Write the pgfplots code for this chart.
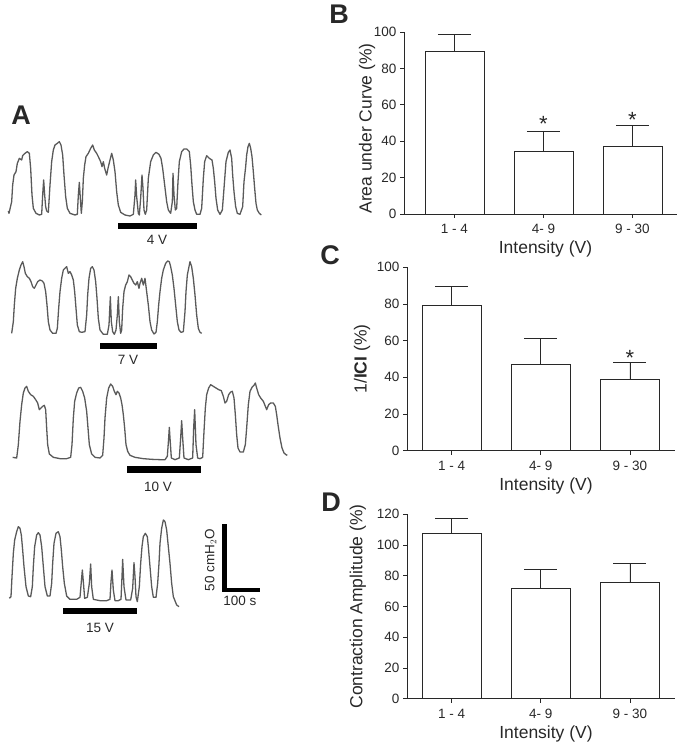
\documentclass[border=0pt]{standalone}
\usepackage{pgfplots}
\pgfplotsset{compat=1.18}
\usepackage{fontspec}
\setmainfont{Liberation Sans}

\definecolor{axgray}{RGB}{40,40,40}
\definecolor{trgray}{RGB}{90,90,90}

\newcommand{\tfont}{\fontsize{13.5}{15}\selectfont}
\newcommand{\lfont}{\fontsize{17.5}{19}\selectfont}
\newcommand{\pfont}{\fontsize{27}{28}\selectfont\bfseries}
\newcommand{\sfont}{\fontsize{22}{22}\selectfont}

\pgfplotsset{
  trace/.style={hide axis, scale only axis, y dir=reverse, clip=false, anchor=north west},
  tr/.style={trgray, line width=1.3pt, line join=round},
  panel/.style={
    scale only axis, anchor=south west,
    axis lines*=left, ymin=0,
    xtick={0,1,2}, xticklabels={1 - 4,4- 9,9 - 30},
    tick align=outside, major tick length=4pt,
    tick style={line width=0.8pt, axgray},
    axis line style={line width=0.8pt, axgray},
    ticklabel style={font=\tfont, text=axgray},
    /pgf/number format/assume math mode=true,
    x tick label style={anchor=center, yshift=-11pt},
    xlabel={Intensity (V)},
    xlabel style={font=\lfont, text=axgray, at={(axis description cs:0.5,0)}, anchor=center, yshift=-35pt, xshift=5pt},
    ylabel style={font=\lfont, text=axgray, anchor=center},
  },
  bars/.style={ybar, bar width=59pt, fill=white, draw=axgray, line width=0.9pt,
    error bars/.cd, y dir=plus, y explicit, error mark=|,
    error bar style={line width=0.9pt, axgray},
    error mark options={mark size=16.5pt, line width=0.9pt, axgray}},
}

\begin{document}
\begin{tikzpicture}
\useasboundingbox (0pt,0pt) rectangle (697pt,749pt);

% panel letters
\node[font=\pfont, text=axgray] at (21pt,634pt) {A};
\node[font=\pfont, text=axgray] at (339pt,735pt) {B};
\node[font=\pfont, text=axgray] at (330pt,494pt) {C};
\node[font=\pfont, text=axgray] at (331pt,247pt) {D};

% ---- trace 4 V
\begin{axis}[trace, at={(0pt,614pt)}, width=270pt, height=100pt,
  xmin=0, xmax=810, ymin=0, ymax=300]
\addplot[tr] coordinates {
(25,228)(27,235)(35,200)(38,150)(42,120)(48,110)(52,85)(58,70)(65,75)(68,62)(75,55)(82,50)(88,55)(92,100)(96,180)(100,220)(108,235)(118,240)(125,238)(128,180)(131,135)(134,180)(137,215)(140,228)(145,232)(150,150)(155,80)(160,45)(165,30)(172,25)(178,20)(183,30)(188,60)(192,120)(197,185)(202,220)(210,235)(225,240)(232,238)(235,180)(238,142)(241,190)(244,235)(247,200)(250,130)(254,90)(258,65)(265,55)(272,40)(278,30)(283,45)(290,55)(295,65)(302,80)(306,95)(310,80)(314,100)(320,120)(324,100)(330,75)(335,55)(340,75)(345,110)(350,170)(355,210)(362,232)(375,240)(390,243)(400,238)(405,180)(407,135)(410,185)(415,235)(418,240)(422,190)(426,120)(429,160)(432,225)(436,238)(440,225)(445,130)(452,80)(460,60)(468,52)(477,58)(483,70)(488,100)(494,150)(500,200)(505,225)(512,235)(517,200)(519,115)(522,180)(526,225)(530,220)(534,140)(538,80)(545,50)(552,42)(560,42)(568,50)(572,90)(576,150)(580,200)(585,225)(590,238)(600,238)(605,220)(610,130)(614,80)(620,62)(628,70)(636,75)(640,100)(644,140)(648,190)(653,225)(660,238)(667,225)(672,160)(678,80)(685,52)(690,45)(695,70)(698,120)(702,170)(707,215)(712,235)(720,238)(728,215)(732,140)(737,95)(740,60)(744,35)(748,25)(752,40)(756,65)(760,110)(764,160)(768,205)(772,225)(778,235)(784,240)
};
\fill[black] (axis cs:353,263) rectangle (axis cs:592,283);
\node[font=\tfont, text=axgray] at (axis cs:471,315) {4 V};
\end{axis}

% ---- trace 7 V
\begin{axis}[trace, at={(0pt,494pt)}, width=210pt, height=100pt,
  xmin=0, xmax=630, ymin=0, ymax=300]
\addplot[tr] coordinates {
(35,235)(40,200)(43,150)(47,100)(52,70)(58,45)(63,30)(68,20)(72,35)(76,55)(82,65)(88,70)(93,80)(98,95)(103,100)(108,90)(113,80)(120,75)(127,78)(132,85)(137,110)(141,150)(145,200)(150,225)(158,235)(168,235)(172,220)(176,160)(180,110)(185,70)(190,45)(195,40)(200,35)(205,55)(210,50)(215,60)(220,75)(224,110)(228,160)(232,210)(238,230)(245,232)(255,230)(260,180)(263,120)(267,70)(272,40)(277,35)(282,45)(287,80)(291,130)(295,190)(300,225)(310,238)(322,238)(327,210)(331,125)(334,200)(338,230)(343,238)(348,225)(352,180)(355,125)(358,200)(362,235)(365,225)(368,160)(372,110)(377,90)(382,80)(387,60)(392,65)(397,75)(402,85)(407,90)(412,80)(417,100)(420,85)(425,70)(430,90)(435,70)(440,110)(445,150)(450,200)(455,225)(462,237)(468,232)(472,200)(476,150)(480,110)(485,70)(490,45)(497,25)(503,18)(508,20)(512,35)(517,60)(522,100)(527,150)(532,200)(537,225)(543,232)(550,230)(555,170)(558,110)(562,60)(566,40)(570,20)(575,35)(580,70)(585,120)(590,180)(595,220)(600,232)(605,235)
};
\fill[black] (axis cs:300,263) rectangle (axis cs:472,283);
\node[font=\tfont, text=axgray] at (axis cs:384,314) {7 V};
\end{axis}

% ---- trace 10 V
\begin{axis}[trace, at={(0pt,371pt)}, width=295pt, height=100pt,
  xmin=0, xmax=885, ymin=0, ymax=300]
\addplot[tr] coordinates {
(38,238)(50,240)(55,200)(60,130)(65,80)(70,45)(75,30)(80,25)(85,40)(92,50)(100,55)(107,65)(113,75)(118,95)(123,90)(128,85)(133,82)(137,95)(140,150)(143,200)(148,228)(160,238)(180,242)(200,242)(212,238)(216,200)(220,120)(224,70)(230,45)(236,30)(242,28)(248,40)(254,60)(260,100)(264,150)(268,200)(275,228)(285,238)(300,240)(308,232)(312,180)(315,120)(320,60)(326,30)(332,18)(338,25)(343,40)(348,50)(352,40)(357,45)(362,60)(366,80)(370,110)(374,150)(378,200)(383,220)(390,232)(405,238)(430,242)(455,244)(480,245)(495,245)(502,235)(506,180)(508,148)(510,180)(514,240)(525,245)(538,240)(542,180)(545,128)(548,180)(552,240)(565,245)(578,240)(581,150)(584,95)(588,200)(593,240)(600,242)(608,238)(612,160)(616,90)(620,50)(626,30)(632,20)(640,25)(648,30)(656,35)(664,38)(670,55)(675,75)(680,70)(686,50)(692,42)(697,40)(702,60)(706,110)(710,170)(714,210)(720,222)(730,222)(736,200)(740,150)(745,80)(750,40)(756,28)(762,22)(766,15)(770,30)(776,50)(782,60)(790,70)(796,85)(800,95)(806,80)(812,75)(820,75)(826,85)(830,110)(834,140)(840,180)(846,210)(852,225)(858,230)(862,232)
};
\fill[black] (axis cs:381,265) rectangle (axis cs:603,286);
\node[font=\tfont, text=axgray] at (axis cs:474,326) {10 V};
\end{axis}

% ---- trace 15 V with scale bar
\begin{axis}[trace, at={(0pt,239pt)}, width=270pt, height=110pt,
  xmin=0, xmax=810, ymin=0, ymax=330]
\addplot[tr] coordinates {
(28,265)(33,260)(36,200)(40,130)(44,90)(50,65)(55,50)(60,55)(64,75)(68,120)(72,170)(78,230)(85,258)(92,260)(97,230)(100,170)(104,110)(110,75)(115,68)(120,75)(125,110)(130,170)(135,230)(142,258)(150,258)(155,220)(158,160)(162,100)(168,70)(175,65)(180,80)(184,120)(188,170)(193,220)(200,258)(210,268)(230,268)(240,262)(244,215)(247,180)(250,215)(254,265)(262,262)(268,220)(272,162)(275,230)(280,268)(300,272)(320,272)(330,268)(333,215)(336,180)(340,240)(345,272)(355,272)(363,268)(366,200)(368,148)(372,230)(378,270)(392,270)(398,235)(402,158)(405,200)(408,260)(412,275)(418,230)(422,160)(426,110)(430,80)(436,70)(442,80)(445,110)(450,170)(455,230)(460,262)(468,262)(473,220)(477,160)(480,100)(485,55)(490,30)(495,35)(500,60)(505,110)(510,160)(515,220)(520,260)(530,285)(537,290)
};
\fill[black] (axis cs:190,293) rectangle (axis cs:410,313);
\node[font=\tfont, text=axgray] at (axis cs:300,354) {15 V};
\fill[black] (axis cs:665,42) rectangle (axis cs:680,245);
\fill[black] (axis cs:665,234) rectangle (axis cs:780,245);
\node[font=\tfont, text=axgray, rotate=90] at (axis cs:632,150) {50 cmH$_2$O};
\node[font=\tfont, text=axgray] at (axis cs:720,272) {100 s};
\end{axis}

% ---- B
\begin{axis}[panel, at={(404pt,535pt)}, width=273pt, height=182pt,
  xmin=-0.567, xmax=2.5, ymax=100, ytick={0,20,...,100},
  ylabel={Area under Curve (\%)},
  ylabel style={at={(axis description cs:-0.1355,0.47)}}]
\addplot[bars] coordinates {(0,89.2) +- (0,9.5) (1,34.2) +- (0,11.4) (2,37.2) +- (0,11.3)};
\node[font=\sfont, text=axgray] at (axis cs:1,49.5) {*};
\node[font=\sfont, text=axgray] at (axis cs:2,51.8) {*};
\end{axis}

% ---- C
\begin{axis}[panel, at={(407pt,298.3pt)}, width=268pt, height=183.4pt,
  xmin=-0.501, xmax=2.505, ymax=100, ytick={0,20,...,100},
  ylabel={1/\textbf{ICI} (\%)},
  ylabel style={at={(axis description cs:-0.168,0.5)}}]
\addplot[bars] coordinates {(0,79.4) +- (0,10.2) (1,47.1) +- (0,14.3) (2,38.9) +- (0,9.1)};
\node[font=\sfont, text=axgray] at (axis cs:2,50.6) {*};
\end{axis}

% ---- D
\begin{axis}[panel, at={(407pt,50.3pt)}, width=268pt, height=184.4pt,
  xmin=-0.501, xmax=2.505, ymax=120, ytick={0,20,...,120},
  ylabel={Contraction Amplitude (\%)},
  ylabel style={at={(axis description cs:-0.183,0.5)}}]
\addplot[bars] coordinates {(0,107.6) +- (0,9.4) (1,71.8) +- (0,12.4) (2,75.7) +- (0,12.6)};
\end{axis}

\end{tikzpicture}
\end{document}
